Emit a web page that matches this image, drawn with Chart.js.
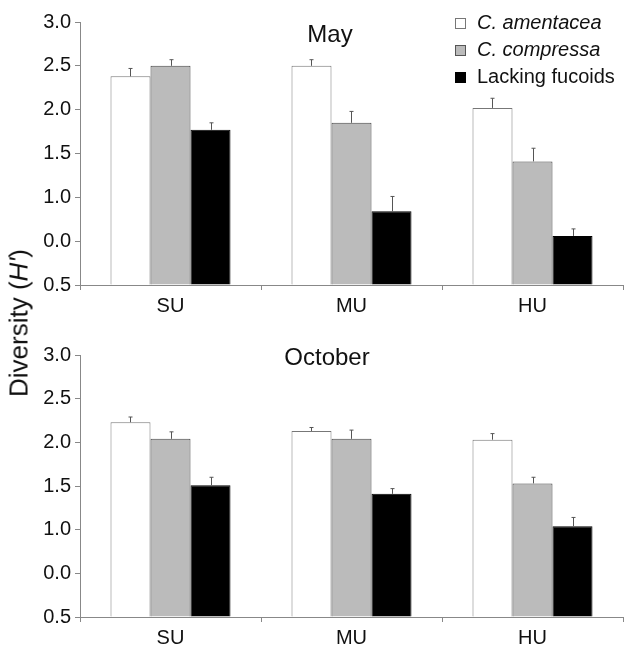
<!DOCTYPE html>
<html>
<head>
<meta charset="utf-8">
<script src="https://cdn.jsdelivr.net/npm/chart.js@4.4.1/dist/chart.umd.min.js"></script>
<style>
    body { margin: 0; background: #fff; }
    #wrap { position: relative; width: 630px; height: 652px; font-family: "Liberation Sans", Arial, sans-serif; color: #111; }
    canvas { position: absolute; left: 0; }
    #ytitle { position: absolute; left: 19px; top: 323px; transform: translate(-50%, -50%) rotate(-90deg); font-size: 26px; white-space: nowrap; }
    #legend { position: absolute; left: 455px; top: 9px; font-size: 20px; line-height: 27px; }
    #legend .sw { display: inline-block; width: 11px; height: 11px; margin-right: 11px; vertical-align: 0px; box-sizing: border-box; }
</style>
</head>
<body>
<div id="wrap">
    <canvas id="mayChart" width="630" height="320" style="top:0"></canvas>
    <canvas id="octChart" width="630" height="332" style="top:320px"></canvas>
    <div id="ytitle">Diversity (<i>H'</i>)</div>
    <div id="legend">
        <div><span class="sw" style="background:#fff;border:1px solid #777"></span><i>C. amentacea</i></div>
        <div><span class="sw" style="background:#bbb;border:1px solid #555"></span><i>C. compressa</i></div>
        <div><span class="sw" style="background:#000;border:1px solid #000"></span>Lacking fucoids</div>
    </div>
</div>
<script>
const sites = ['SU', 'MU', 'HU'];
const yTickLabels = ['0.5', '0.0', '1.0', '1.5', '2.0', '2.5', '3.0'];

// May
const mayAmentacea = [2.38, 2.50, 2.02];
const mayCompressa = [2.50, 1.85, 1.41];
const mayLacking = [1.77, 0.84, 0.56];
const mayAmentaceaErr = [0.09, 0.07, 0.11];
const mayCompressaErr = [0.07, 0.13, 0.15];
const mayLackingErr = [0.08, 0.17, 0.08];

// October
const octAmentacea = [2.23, 2.13, 2.03];
const octCompressa = [2.04, 2.04, 1.53];
const octLacking = [1.51, 1.41, 1.04];
const octAmentaceaErr = [0.06, 0.04, 0.07];
const octCompressaErr = [0.08, 0.10, 0.07];
const octLackingErr = [0.09, 0.06, 0.10];

const fontFamily = '"Liberation Sans", Arial, sans-serif';

// error bars (upward only) drawn from the dataset's err array
const errorBars = {
    id: 'errorBars',
    afterDatasetsDraw(chart) {
        const ctx = chart.ctx;
        const yScale = chart.scales.y;
        ctx.save();
        ctx.strokeStyle = '#555';
        ctx.lineWidth = 1;
        chart.data.datasets.forEach((ds, i) => {
            const meta = chart.getDatasetMeta(i);
            meta.data.forEach((bar, j) => {
                const top = yScale.getPixelForValue(ds.data[j] + ds.err[j]);
                const x = Math.round(bar.x) + 0.5;
                ctx.beginPath();
                ctx.moveTo(x, bar.y);
                ctx.lineTo(x, top);
                ctx.moveTo(x - 2, top);
                ctx.lineTo(x + 2, top);
                ctx.stroke();
            });
        });
        ctx.restore();
    }
};

// panel label ("May" / "October")
const panelLabel = {
    id: 'panelLabel',
    afterDraw(chart, args, opts) {
        const ctx = chart.ctx;
        ctx.save();
        ctx.font = '24px ' + fontFamily;
        ctx.fillStyle = '#111';
        ctx.textAlign = 'center';
        ctx.textBaseline = 'middle';
        ctx.fillText(opts.text, opts.x, opts.y);
        ctx.restore();
    }
};

function makeChart(id, title, titleX, titleY, topPad, amentacea, compressa, lacking, errA, errC, errL) {
    return new Chart(document.getElementById(id), {
        type: 'bar',
        data: {
            labels: sites,
            datasets: [
                { label: 'C. amentacea', data: amentacea, err: errA, backgroundColor: '#ffffff', borderColor: '#777', borderWidth: 1 },
                { label: 'C. compressa', data: compressa, err: errC, backgroundColor: '#bbbbbb', borderColor: '#444', borderWidth: 1 },
                { label: 'Lacking fucoids', data: lacking, err: errL, backgroundColor: '#000000', borderColor: '#000', borderWidth: 1 }
            ]
        },
        options: {
            responsive: false,
            animation: false,
            layout: { padding: { top: topPad, right: 7, left: 0, bottom: 0 } },
            plugins: {
                legend: { display: false },
                tooltip: { enabled: false },
                panelLabel: { text: title, x: titleX, y: titleY }
            },
            datasets: {
                bar: { categoryPercentage: 0.663, barPercentage: 1.0 }
            },
            scales: {
                x: {
                    offset: true,
                    afterFit: (s) => { s.height = 35; },
                    grid: { offset: true, drawOnChartArea: false, tickLength: 5, color: '#888' },
                    border: { color: '#888', width: 1 },
                    ticks: { color: '#111', padding: 4, font: { family: fontFamily, size: 20 } }
                },
                y: {
                    min: 0,
                    max: 3,
                    afterFit: (s) => { s.width = 80; },
                    grid: { drawOnChartArea: false, tickLength: 5, color: '#888' },
                    border: { color: '#888', width: 1 },
                    ticks: {
                        stepSize: 0.5,
                        color: '#111',
                        padding: 4,
                        font: { family: fontFamily, size: 20 },
                        callback: (v, i) => yTickLabels[i]
                    }
                }
            }
        },
        plugins: [errorBars, panelLabel]
    });
}

makeChart('mayChart', 'May', 330, 35, 22, mayAmentacea, mayCompressa, mayLacking, mayAmentaceaErr, mayCompressaErr, mayLackingErr);
makeChart('octChart', 'October', 327, 38, 35, octAmentacea, octCompressa, octLacking, octAmentaceaErr, octCompressaErr, octLackingErr);
</script>
</body>
</html>
